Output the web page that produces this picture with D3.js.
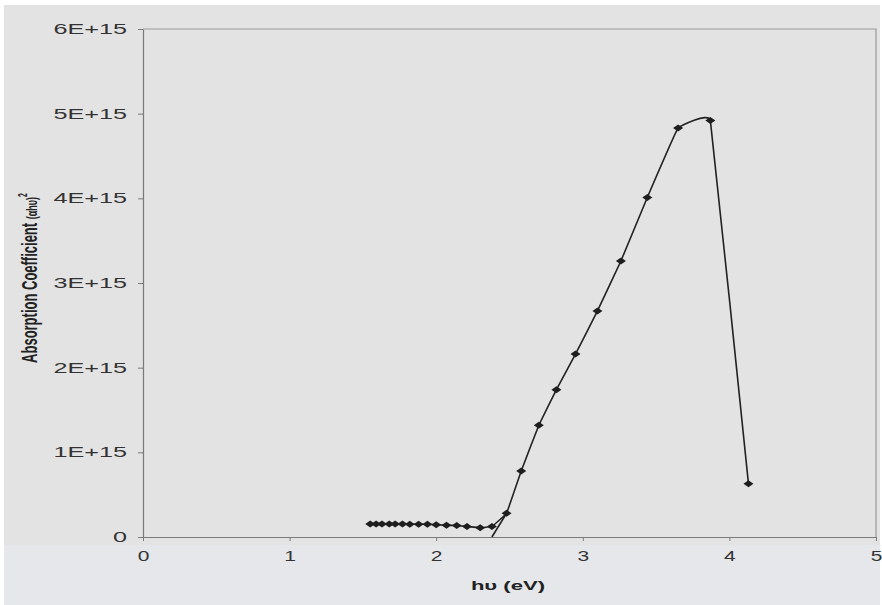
<!DOCTYPE html>
<html>
<head>
<meta charset="utf-8">
<script src="https://cdn.jsdelivr.net/npm/d3@7"></script>
<style>
  body { margin: 0; background: #fff; }
  text { font-family: 'Liberation Sans', Arial, sans-serif; }
</style>
</head>
<body>
<svg id="container"></svg>
<script>
// photon energy (eV) and (alpha h nu)^2 in units of 1E+15
const energy = [1.55, 1.59, 1.63, 1.68, 1.72, 1.77, 1.82, 1.88, 1.94, 2.0,
  2.07, 2.14, 2.21, 2.3, 2.38, 2.48, 2.58, 2.7, 2.82, 2.95, 3.1, 3.26,
  3.44, 3.65, 3.87, 4.13]
const absorb = [0.155, 0.155, 0.155, 0.155, 0.155, 0.155, 0.15, 0.15, 0.15, 0.145,
  0.14, 0.135, 0.125, 0.11, 0.125, 0.28, 0.78, 1.32, 1.74, 2.16, 2.67, 3.26,
  4.01, 4.83, 4.92, 0.63]
// extrapolated band-gap line (Tauc fit) down to the x axis
const fitX = [2.38, 2.48]
const fitY = [0, 0.28]

const xTicks = [0, 1, 2, 3, 4, 5]
const yTicks = [0, 1, 2, 3, 4, 5, 6]
const yTickLabels = ['0', '1E+15', '2E+15', '3E+15', '4E+15', '5E+15', '6E+15']

const W = 882, H = 605
const stretch = 1.8 // the scanned picture is stretched sideways

const svg = d3.select('#container').attr('width', W).attr('height', H)

svg.append('rect')
  .attr('x', 4).attr('y', 5)
  .attr('width', W - 6).attr('height', H - 5)
  .attr('fill', '#e3e3e3')
svg.append('rect')
  .attr('x', 4).attr('y', 545)
  .attr('width', W - 6).attr('height', 60)
  .attr('fill', '#e5e7ea')

const xScale = d3.scaleLinear().domain([0, 5]).range([143, 876])
const yScale = d3.scaleLinear().domain([0, 6]).range([537, 29])

// frame (top and right)
svg.append('path')
  .attr('d', `M${xScale(0)},${yScale(6)}H${xScale(5)}V${yScale(0)}`)
  .attr('fill', 'none')
  .attr('stroke', '#9a9a9a')
  .attr('stroke-width', 1.2)

const gX = svg.append('g')
  .attr('transform', `translate(0,${yScale(0)})`)
  .call(d3.axisBottom(xScale).tickValues(xTicks).tickFormat(d3.format('d'))
    .tickSizeInner(4).tickSizeOuter(0).tickPadding(6))
const gY = svg.append('g')
  .attr('transform', `translate(${xScale(0)},0)`)
  .call(d3.axisLeft(yScale).tickValues(yTicks).tickFormat((d, i) => yTickLabels[i])
    .tickSizeInner(5).tickSizeOuter(0).tickPadding(11))

for (let g of [gX, gY]) {
  g.select('.domain').attr('stroke', '#7a7a7a').attr('stroke-width', 1.2)
  g.selectAll('.tick line').attr('stroke', '#7a7a7a')
  g.selectAll('.tick text')
    .attr('fill', '#333')
    .style('font-size', '14px')
}
gY.selectAll('.tick text')
  .attr('x', -16 / stretch)
  .attr('transform', `scale(${stretch},1)`)
gX.selectAll('.tick text')
  .attr('y', 14)
  .attr('transform', 'scale(1.5,1)')

const pts = energy.map((e, i) => [e, absorb[i]])

const line = d3.line()
  .x((d) => xScale(d[0]))
  .y((d) => yScale(d[1]))

svg.append('path')
  .datum(pts)
  .attr('fill', 'none')
  .attr('stroke', '#222')
  .attr('stroke-width', 1.6)
  .attr('d', line.curve(d3.curveCardinal.tension(0.85)))

svg.append('path')
  .datum(fitX.map((x, i) => [x, fitY[i]]))
  .attr('fill', 'none')
  .attr('stroke', '#222')
  .attr('stroke-width', 1.6)
  .attr('d', d3.line().x((d) => xScale(d[0])).y((d) => yScale(d[1])))

// diamond markers
svg.selectAll('.marker')
  .data(pts)
  .enter()
  .append('path')
  .attr('class', 'marker')
  .attr('transform', (d) => `translate(${xScale(d[0])},${yScale(d[1])})`)
  .attr('d', 'M-5,0L0,-3.5L5,0L0,3.5Z')
  .attr('fill', '#1e1e1e')

// axis titles
svg.append('text')
  .attr('transform', `translate(508,590) scale(1.7,1)`)
  .attr('text-anchor', 'middle')
  .attr('fill', '#222')
  .style('font-size', '13px')
  .style('font-weight', 'bold')
  .text('hυ (eV)')

let yTitle = svg.append('text')
  .attr('transform', `translate(37,278) scale(1.7,1) rotate(-90)`)
  .attr('text-anchor', 'middle')
  .attr('fill', '#222')
  .style('font-size', '13px')
  .style('font-weight', 'bold')
yTitle.append('tspan').text('Absorption Coefficient ')
yTitle.append('tspan').style('font-size', '9px').text('(αhυ)')
yTitle.append('tspan').style('font-size', '7px').attr('dy', -6).text('2')
</script>
</body>
</html>
